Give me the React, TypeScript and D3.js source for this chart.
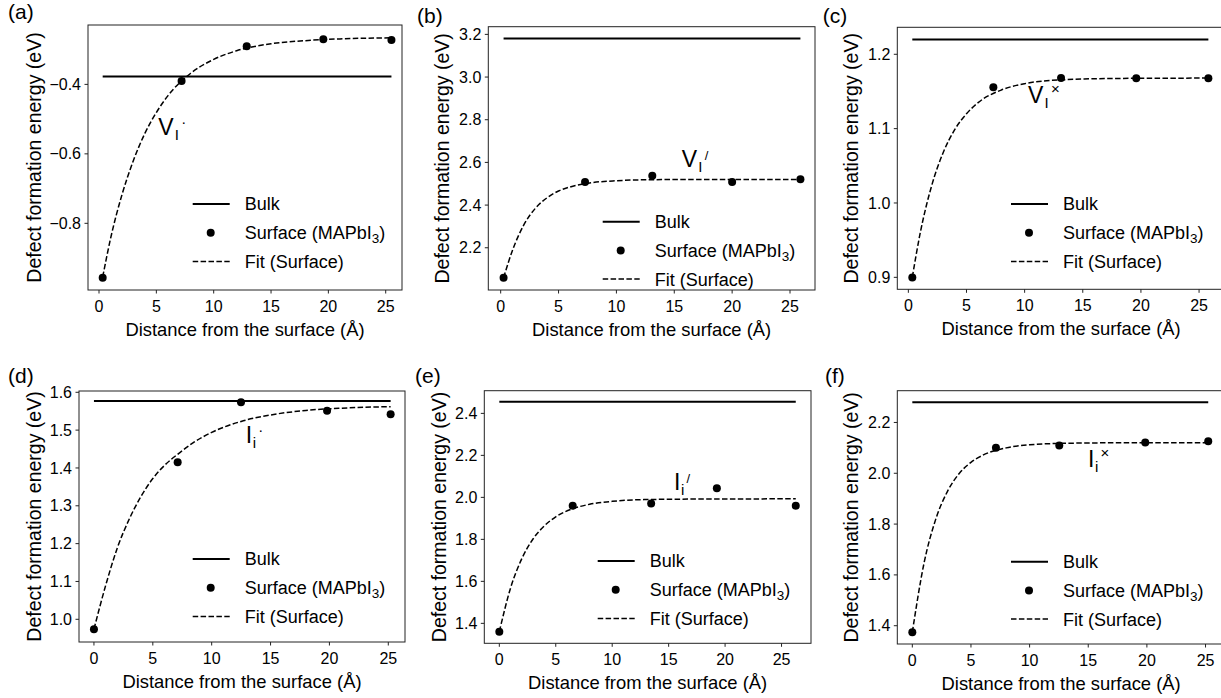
import React from 'react';
import * as d3 from 'd3';

// ---------------- data ----------------
const xTicks = [0, 5, 10, 15, 20, 25];

const distA = [0.32, 7.2, 12.88, 19.56, 25.5];
const energyA = [-0.957, -0.39, -0.29, -0.27, -0.272];
const bulkA = -0.377;
const fitXA = [0.32, 1, 2, 3, 4, 5, 6, 8, 10, 12, 15, 18, 21, 25.5];
const fitYA = [-0.955, -0.845, -0.718, -0.619, -0.541, -0.481, -0.433, -0.368, -0.328, -0.303, -0.283, -0.274, -0.269, -0.266];
const yTicksA = [-0.8, -0.6, -0.4];

const distB = [0.25, 7.29, 13.1, 20.0, 25.9];
const energyB = [2.059, 2.508, 2.537, 2.508, 2.521];
const bulkB = 3.181;
const fitXB = [0.25, 1, 2, 3, 4, 5, 6, 8, 10, 13, 18, 25.9];
const fitYB = [2.059, 2.185, 2.307, 2.385, 2.434, 2.466, 2.485, 2.506, 2.514, 2.519, 2.52, 2.52];
const yTicksB = [2.2, 2.4, 2.6, 2.8, 3.0, 3.2];

const distC = [0.34, 7.31, 13.13, 19.6, 25.8];
const energyC = [0.8997, 1.1556, 1.168, 1.1677, 1.1677];
const bulkC = 1.22;
const fitXC = [0.34, 1, 2, 3, 4, 5, 6, 8, 10, 13, 18, 25.8];
const fitYC = [0.9, 0.958, 1.023, 1.068, 1.099, 1.12, 1.135, 1.152, 1.1605, 1.1655, 1.1675, 1.168];
const yTicksC = [0.9, 1.0, 1.1, 1.2];

const distD = [0, 7.11, 12.49, 19.8, 25.2];
const energyD = [0.9736, 1.415, 1.5736, 1.5514, 1.5418];
const bulkD = 1.577;
const fitXD = [0, 1, 2, 3, 4, 5, 6, 7.1, 8.5, 10, 12.5, 15, 18, 21, 25.2];
const fitYD = [0.974, 1.09, 1.19, 1.265, 1.325, 1.372, 1.407, 1.436, 1.468, 1.494, 1.523, 1.54, 1.552, 1.558, 1.562];
const yTicksD = [1.0, 1.1, 1.2, 1.3, 1.4, 1.5, 1.6];

const distE = [0, 6.5, 13.45, 19.27, 26.26];
const energyE = [1.36, 1.96, 1.971, 2.043, 1.96];
const bulkE = 2.455;
const fitXE = [0, 1, 2, 3, 4, 5, 6.5, 8, 10, 13, 18, 26.26];
const fitYE = [1.36, 1.569, 1.709, 1.803, 1.865, 1.9075, 1.946, 1.967, 1.981, 1.9895, 1.992, 1.993];
const yTicksE = [1.4, 1.6, 1.8, 2.0, 2.2, 2.4];

const distF = [0, 7.13, 12.53, 19.86, 25.23];
const energyF = [1.374, 2.1, 2.1095, 2.121, 2.126];
const bulkF = 2.28;
const fitXF = [0, 1, 2, 3, 4, 5, 6, 8, 10, 13, 18, 25.23];
const fitYF = [1.374, 1.6465, 1.8195, 1.929, 1.999, 2.043, 2.071, 2.1, 2.112, 2.118, 2.12, 2.12];
const yTicksF = [1.4, 1.6, 1.8, 2.0, 2.2];

const panelLetters = ['(a)', '(b)', '(c)', '(d)', '(e)', '(f)'];
const defectMain = ['V', 'V', 'V', 'I', 'I', 'I'];
const defectSub = ['I', 'I', 'I', 'i', 'i', 'i'];
const defectCharge = ['·', '/', '×', '·', '/', '×'];

const xLabel = 'Distance from the surface (Å)';
const yLabel = 'Defect formation energy (eV)';
const legendBulk = 'Bulk';
const legendSurface = 'Surface (MAPbI';
const legendSurfaceSub = '3';
const legendFit = 'Fit (Surface)';

// ---------------- layout ----------------
const FONT = "'Liberation Sans', Arial, Helvetica, sans-serif";

const panels = [
  { dist: distA, energy: energyA, bulk: bulkA, fitX: fitXA, fitY: fitYA, yTicks: yTicksA,
    box: { l: 88, r: 402, t: 25, b: 290 }, xDomain: [-0.96, 26.42], yDomain: [-0.992, -0.229],
    letter: { x: 8, y: 19 }, yLabelX: 40.5, legend: { x: 192.7, y: 204 }, ann: { x: 5.17, y: -0.546 } },
  { dist: distB, energy: energyB, bulk: bulkB, fitX: fitXB, fitY: fitYB, yTicks: yTicksB,
    box: { l: 488.3, r: 815, t: 26.7, b: 290 }, xDomain: [-1.07, 27.16], yDomain: [2.002, 3.236],
    letter: { x: 417, y: 23 }, yLabelX: 449, legend: { x: 602.7, y: 221.7 }, ann: { x: 15.64, y: 2.58 } },
  { dist: distC, energy: energyC, bulk: bulkC, fitX: fitXC, fitY: fitYC, yTicks: yTicksC,
    box: { l: 897.3, r: 1225, t: 27.3, b: 289.3 }, xDomain: [-0.95, 27.23], yDomain: [0.8839, 1.2363],
    letter: { x: 822.7, y: 23 }, yLabelX: 857.5, legend: { x: 1011, y: 204 }, ann: { x: 10.29, y: 1.1345 } },
  { dist: distD, energy: energyD, bulk: bulkD, fitX: fitXD, fitY: fitYD, yTicks: yTicksD,
    box: { l: 79, r: 405, t: 391, b: 642 }, xDomain: [-1.27, 26.42], yDomain: [0.94, 1.6034],
    letter: { x: 8, y: 383 }, yLabelX: 40.5, legend: { x: 192.7, y: 559 }, ann: { x: 12.89, y: 1.466 } },
  { dist: distE, energy: energyE, bulk: bulkE, fitX: fitXE, fitY: fitYE, yTicks: yTicksE,
    box: { l: 484.3, r: 811, t: 390.7, b: 643.3 }, xDomain: [-1.33, 27.61], yDomain: [1.305, 2.508],
    letter: { x: 415, y: 383 }, yLabelX: 445.5, legend: { x: 597.7, y: 561 }, ann: { x: 15.47, y: 2.035 } },
  { dist: distF, energy: energyF, bulk: bulkF, fitX: fitXF, fitY: fitYF, yTicks: yTicksF,
    box: { l: 897.3, r: 1225, t: 390.7, b: 644 }, xDomain: [-1.28, 26.66], yDomain: [1.328, 2.325],
    letter: { x: 825, y: 383 }, yLabelX: 857.5, legend: { x: 1011, y: 561.7 }, ann: { x: 14.98, y: 2.024 } },
];

const fmt1 = d3.format('.1f');

function Panel({ cfg, idx }: { cfg: any; idx: number }) {
  const { box } = cfg;
  const x = d3.scaleLinear().domain(cfg.xDomain).range([box.l, box.r]);
  const y = d3.scaleLinear().domain(cfg.yDomain).range([box.b, box.t]);
  const fitPts: [number, number][] = cfg.fitX.map((v: number, i: number) => [v, cfg.fitY[i]]);
  const line = d3.line<[number, number]>().x(d => x(d[0])).y(d => y(d[1])).curve(d3.curveMonotoneX);
  const ext = d3.extent(cfg.dist as number[]) as [number, number];
  const bulkPts: [number, number][] = [[ext[0], cfg.bulk], [ext[1], cfg.bulk]];
  const lineBulk = d3.line<[number, number]>().x(d => x(d[0])).y(d => y(d[1]));
  const midY = (box.t + box.b) / 2;
  const lg = cfg.legend;
  const rowH = 28.7;

  const isV = defectMain[idx] === 'V';
  const annX = x(cfg.ann.x);
  const annY = y(cfg.ann.y);
  const mainW = isV ? 16.5 : 7;
  const subW = defectSub[idx] === 'I' ? 5 : 4;
  const charge = defectCharge[idx];
  const chargeDy = charge === '·' ? -8 : charge === '/' ? -7 : -9;
  const chargeSize = charge === '/' ? 13 : 15;

  return (
    <g fontFamily={FONT} fill="#000">
      <text x={cfg.letter.x} y={cfg.letter.y} fontSize={21}>{panelLetters[idx]}</text>

      <rect x={box.l} y={box.t} width={box.r - box.l} height={box.b - box.t} fill="none" stroke="#222" strokeWidth={1} />

      {xTicks.map(t => (
        <g key={'xt' + t}>
          <line x1={x(t)} x2={x(t)} y1={box.b} y2={box.b + 3.5} stroke="#222" strokeWidth={1} />
          <text x={x(t)} y={box.b + 22} fontSize={16} textAnchor="middle">{t}</text>
        </g>
      ))}
      {cfg.yTicks.map((t: number) => (
        <g key={'yt' + t}>
          <line x1={box.l - 3.5} x2={box.l} y1={y(t)} y2={y(t)} stroke="#222" strokeWidth={1} />
          <text x={box.l - 7} y={y(t)} dy="0.35em" fontSize={16} textAnchor="end">{fmt1(t)}</text>
        </g>
      ))}

      <text x={(box.l + box.r) / 2} y={box.b + 46} fontSize={18.4} textAnchor="middle">{xLabel}</text>
      <text transform={`translate(${cfg.yLabelX},${midY}) rotate(-90)`} fontSize={19.5} textAnchor="middle">{yLabel}</text>

      <path d={lineBulk(bulkPts) || ''} fill="none" stroke="#000" strokeWidth={2} />
      <path d={line(fitPts) || ''} fill="none" stroke="#000" strokeWidth={1.5} strokeDasharray="5.5,2.4" />
      {cfg.dist.map((d: number, i: number) => (
        <circle key={'p' + i} cx={x(d)} cy={y(cfg.energy[i])} r={4} fill="#000" />
      ))}

      <text x={annX} y={annY} fontSize={23}>{defectMain[idx]}</text>
      <text x={annX + mainW} y={annY + 5} fontSize={15}>{defectSub[idx]}</text>
      <text x={annX + mainW + subW + 1.5} y={annY + chargeDy} fontSize={chargeSize}>{charge}</text>

      <line x1={lg.x} x2={lg.x + 37} y1={lg.y} y2={lg.y} stroke="#000" strokeWidth={2} />
      <text x={lg.x + 52} y={lg.y} dy="0.36em" fontSize={18}>{legendBulk}</text>
      <circle cx={lg.x + 18} cy={lg.y + rowH} r={4} fill="#000" />
      <text x={lg.x + 52} y={lg.y + rowH} dy="0.36em" fontSize={18}>
        {legendSurface}
        <tspan fontSize={13.5} dy={4}>{legendSurfaceSub}</tspan>
        <tspan dy={-4}>)</tspan>
      </text>
      <line x1={lg.x} x2={lg.x + 37} y1={lg.y + 2 * rowH} y2={lg.y + 2 * rowH} stroke="#000" strokeWidth={1.5} strokeDasharray="5.5,2.4" />
      <text x={lg.x + 52} y={lg.y + 2 * rowH} dy="0.36em" fontSize={18}>{legendFit}</text>
    </g>
  );
}

export default function App() {
  return (
    <svg
      width={1221}
      height={698}
      viewBox="0 0 1221 698"
      style={{ position: 'absolute', left: 0, top: 0, background: '#fff' }}
    >
      <rect x={0} y={0} width={1221} height={698} fill="#fff" />
      {panels.map((p, i) => (
        <Panel key={i} cfg={p} idx={i} />
      ))}
    </svg>
  );
}
